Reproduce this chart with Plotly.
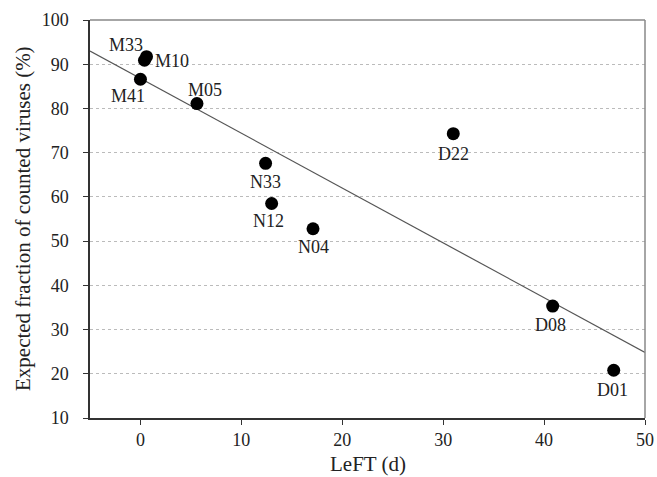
import plotly.graph_objects as go

labels = ["M33", "M10", "M41", "M05", "N33", "N12", "N04", "D22", "D08", "D01"]
left_days = [0.6, 0.4, 0.0, 5.6, 12.4, 13.0, 17.1, 31.0, 40.85, 46.9]
expected_pct = [91.7, 90.9, 86.6, 81.1, 67.6, 58.5, 52.8, 74.3, 35.3, 20.8]
# label offsets (pixels) relative to the point
label_dx = [-21, 28, -12, 8, 0, -3, 0, 0, -2, -1]
label_dy = [-12, 1, 17, -14, 19, 17, 18, 20, 19, 20]

fit_x = [-5, 50]
fit_y = [93.0, 24.8]

x_title = "LeFT (d)"
y_title = "Expected fraction of counted viruses (%)"

FONT = "Liberation Serif"

fig = go.Figure()
fig.add_trace(go.Scatter(x=fit_x, y=fit_y, mode="lines",
                         line=dict(color="#555555", width=1.2),
                         hoverinfo="skip", showlegend=False))
fig.add_trace(go.Scatter(x=left_days, y=expected_pct, mode="markers",
                         marker=dict(size=13, color="black"),
                         showlegend=False))

for lab, x, y, dx, dy in zip(labels, left_days, expected_pct, label_dx, label_dy):
    fig.add_annotation(x=x, y=y, text=lab, showarrow=False,
                       xshift=dx, yshift=-dy,
                       font=dict(family=FONT, size=18, color="#222"))

# axis titles
fig.add_annotation(xref="paper", yref="paper", x=0.5, y=0, yshift=-46,
                   xanchor="center", yanchor="middle", showarrow=False,
                   text=x_title, font=dict(family=FONT, size=21, color="#222"))
fig.add_annotation(xref="paper", yref="paper", x=0, y=0.5, xshift=-67,
                   xanchor="center", yanchor="middle", showarrow=False, textangle=-90,
                   text=y_title, font=dict(family=FONT, size=21, color="#222"))

# lighter top and right frame
fig.add_shape(type="line", xref="paper", yref="paper", x0=0, x1=1, y0=1, y1=1,
              line=dict(color="#888888", width=1.5))
fig.add_shape(type="line", xref="paper", yref="paper", x0=1, x1=1, y0=0, y1=1,
              line=dict(color="#888888", width=1.5))

fig.update_layout(
    width=657, height=477,
    margin=dict(l=90, r=12, t=20, b=59),
    plot_bgcolor="white", paper_bgcolor="white",
    font=dict(family=FONT, size=18, color="#222"),
)
fig.update_xaxes(range=[-5, 50], tickvals=[0, 10, 20, 30, 40, 50],
                 automargin=False,
                 showgrid=False, zeroline=False,
                 showline=True, linecolor="#333", linewidth=1.5,
                 ticks="outside", ticklen=5, tickcolor="#333",
                 tickfont=dict(size=18), ticklabelstandoff=0)
fig.update_yaxes(range=[10, 100], tickvals=[10, 20, 30, 40, 50, 60, 70, 80, 90, 100],
                 automargin=False,
                 showgrid=True, gridcolor="#bbbbbb", griddash="dot", gridwidth=1,
                 zeroline=False,
                 showline=True, linecolor="#333", linewidth=1.5,
                 ticks="outside", ticklen=5, tickcolor="#333",
                 tickfont=dict(size=18), ticklabelstandoff=11)

fig.write_html("out.html")
